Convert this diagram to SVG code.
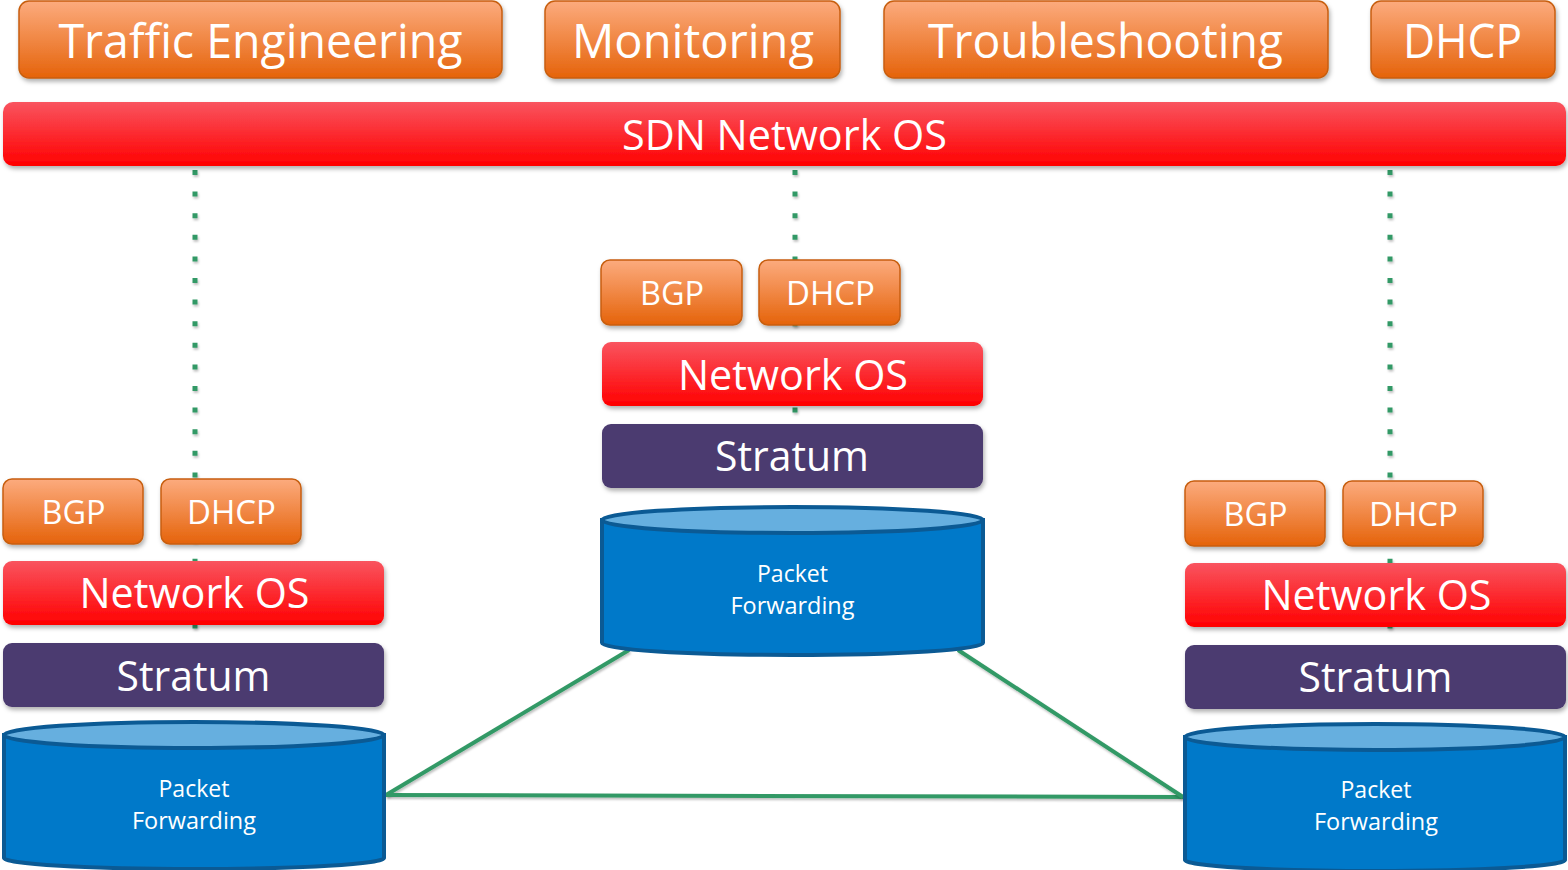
<svg xmlns="http://www.w3.org/2000/svg" width="1568" height="870" viewBox="0 0 1568 870">
  <defs>
    <linearGradient id="gOrange" x1="0" y1="0" x2="0" y2="1">
      <stop offset="0" stop-color="#fcab7e"/>
      <stop offset="1" stop-color="#e5630a"/>
    </linearGradient>
    <linearGradient id="gRed" x1="0" y1="0" x2="0" y2="1">
      <stop offset="0" stop-color="#f9545f"/>
      <stop offset="1" stop-color="#ff0000"/>
    </linearGradient>
    <filter id="shadow" x="-5%" y="-20%" width="110%" height="150%">
      <feDropShadow dx="1.5" dy="3" stdDeviation="2" flood-color="#000" flood-opacity="0.3"/>
    </filter>
    <filter id="lshadow" filterUnits="userSpaceOnUse" x="0" y="0" width="1568" height="870">
      <feDropShadow dx="1" dy="2" stdDeviation="1.2" flood-color="#000" flood-opacity="0.25"/>
    </filter>
  </defs>
  <style>
    .orange { fill: url(#gOrange); stroke: #c75e10; stroke-width: 1.5; filter: url(#shadow); }
    .red { fill: url(#gRed); filter: url(#shadow); }
    .stratum { fill: #4b3a70; filter: url(#shadow); }
    .cylBody { fill: #0079c9; stroke: #0b5a94; stroke-width: 4; }
    .cylTop { fill: #66afdf; stroke: #0b5a94; stroke-width: 4; }
    text { font-family: "Open Sans", "Liberation Sans", sans-serif; fill: #ffffff; text-anchor: middle; }
    .t48 { font-size: 48px; }
    .t42 { font-size: 42px; }
    .t33 { font-size: 33px; }
    .t23 { font-size: 23px; }
    .dots { stroke: #339966; stroke-width: 5; stroke-dasharray: 5 16.6; fill: none; filter: url(#lshadow); }
    .link { stroke: #339966; stroke-width: 4; fill: none; filter: url(#lshadow); }
  </style>

  <g id="connectors">
    <line class="dots" x1="195" y1="170" x2="195" y2="645"/>
    <line class="dots" x1="795" y1="170" x2="795" y2="425"/>
    <line class="dots" x1="1390" y1="170" x2="1390" y2="647"/>
    <line class="link" x1="629" y1="650" x2="386" y2="795"/>
    <line class="link" x1="386" y1="795" x2="1183" y2="797"/>
    <line class="link" x1="958" y1="650" x2="1183" y2="797"/>
  </g>

  <g id="app-traffic-engineering">
    <rect class="orange" x="19" y="1" width="483" height="77" rx="10"/>
    <text class="t48" x="260.5" y="58" textLength="404" lengthAdjust="spacingAndGlyphs">Traffic Engineering</text>
  </g>
  <g id="app-monitoring">
    <rect class="orange" x="545" y="1" width="295" height="77" rx="10"/>
    <text class="t48" x="693" y="58" textLength="242" lengthAdjust="spacingAndGlyphs">Monitoring</text>
  </g>
  <g id="app-troubleshooting">
    <rect class="orange" x="884" y="1" width="444" height="77" rx="10"/>
    <text class="t48" x="1105.5" y="58" textLength="355" lengthAdjust="spacingAndGlyphs">Troubleshooting</text>
  </g>
  <g id="app-dhcp">
    <rect class="orange" x="1371" y="1" width="184" height="77" rx="10"/>
    <text class="t48" x="1462.5" y="58" textLength="119" lengthAdjust="spacingAndGlyphs">DHCP</text>
  </g>

  <g id="sdn-network-os">
    <rect class="red" x="3" y="102" width="1563" height="64" rx="10"/>
    <text class="t42" x="784.5" y="150" textLength="325" lengthAdjust="spacingAndGlyphs">SDN Network OS</text>
  </g>

  <!-- Middle switch -->
  <g id="mid-bgp">
    <rect class="orange" x="601" y="260" width="141" height="65" rx="9"/>
    <text class="t33" x="672" y="305" textLength="64" lengthAdjust="spacingAndGlyphs">BGP</text>
  </g>
  <g id="mid-dhcp">
    <rect class="orange" x="759" y="260" width="141" height="65" rx="9"/>
    <text class="t33" x="830.5" y="305" textLength="89" lengthAdjust="spacingAndGlyphs">DHCP</text>
  </g>
  <g id="mid-network-os">
    <rect class="red" x="602" y="342" width="381" height="64" rx="9"/>
    <text class="t42" x="793" y="390" textLength="230" lengthAdjust="spacingAndGlyphs">Network OS</text>
  </g>
  <g id="mid-stratum">
    <rect class="stratum" x="602" y="424" width="381" height="64" rx="9"/>
    <text class="t42" x="792" y="471" textLength="154" lengthAdjust="spacingAndGlyphs">Stratum</text>
  </g>
  <g id="mid-packet-forwarding">
    <path class="cylBody" d="M602 520 V643 A190.5 12 0 0 0 983 643 V520 Z"/>
    <ellipse class="cylTop" cx="792.5" cy="520" rx="190.5" ry="13"/>
    <text class="t23" x="792.5" y="582" textLength="71" lengthAdjust="spacingAndGlyphs">Packet</text>
    <text class="t23" x="792.5" y="614" textLength="124" lengthAdjust="spacingAndGlyphs">Forwarding</text>
  </g>

  <!-- Left switch -->
  <g id="left-bgp">
    <rect class="orange" x="3" y="479" width="140" height="65" rx="9"/>
    <text class="t33" x="73.5" y="524" textLength="64" lengthAdjust="spacingAndGlyphs">BGP</text>
  </g>
  <g id="left-dhcp">
    <rect class="orange" x="161" y="479" width="140" height="65" rx="9"/>
    <text class="t33" x="231.5" y="524" textLength="89" lengthAdjust="spacingAndGlyphs">DHCP</text>
  </g>
  <g id="left-network-os">
    <rect class="red" x="3" y="561" width="381" height="64" rx="9"/>
    <text class="t42" x="194.5" y="608" textLength="230" lengthAdjust="spacingAndGlyphs">Network OS</text>
  </g>
  <g id="left-stratum">
    <rect class="stratum" x="3" y="643" width="381" height="64" rx="9"/>
    <text class="t42" x="193.5" y="691" textLength="154" lengthAdjust="spacingAndGlyphs">Stratum</text>
  </g>
  <g id="left-packet-forwarding">
    <path class="cylBody" d="M4 735 V858 A190 11 0 0 0 384 858 V735 Z"/>
    <ellipse class="cylTop" cx="194" cy="735" rx="190" ry="13"/>
    <text class="t23" x="194" y="797" textLength="71" lengthAdjust="spacingAndGlyphs">Packet</text>
    <text class="t23" x="194" y="829" textLength="124" lengthAdjust="spacingAndGlyphs">Forwarding</text>
  </g>

  <!-- Right switch -->
  <g id="right-bgp">
    <rect class="orange" x="1185" y="481" width="140" height="65" rx="9"/>
    <text class="t33" x="1255.5" y="526" textLength="64" lengthAdjust="spacingAndGlyphs">BGP</text>
  </g>
  <g id="right-dhcp">
    <rect class="orange" x="1343" y="481" width="140" height="65" rx="9"/>
    <text class="t33" x="1413.5" y="526" textLength="89" lengthAdjust="spacingAndGlyphs">DHCP</text>
  </g>
  <g id="right-network-os">
    <rect class="red" x="1185" y="563" width="381" height="64" rx="9"/>
    <text class="t42" x="1376.5" y="610" textLength="230" lengthAdjust="spacingAndGlyphs">Network OS</text>
  </g>
  <g id="right-stratum">
    <rect class="stratum" x="1185" y="645" width="381" height="64" rx="9"/>
    <text class="t42" x="1375.5" y="692" textLength="154" lengthAdjust="spacingAndGlyphs">Stratum</text>
  </g>
  <g id="right-packet-forwarding">
    <path class="cylBody" d="M1185 737 V860 A190 11 0 0 0 1565 860 V737 Z"/>
    <ellipse class="cylTop" cx="1375" cy="737" rx="190" ry="13"/>
    <text class="t23" x="1376" y="798" textLength="71" lengthAdjust="spacingAndGlyphs">Packet</text>
    <text class="t23" x="1376" y="830" textLength="124" lengthAdjust="spacingAndGlyphs">Forwarding</text>
  </g>
</svg>
